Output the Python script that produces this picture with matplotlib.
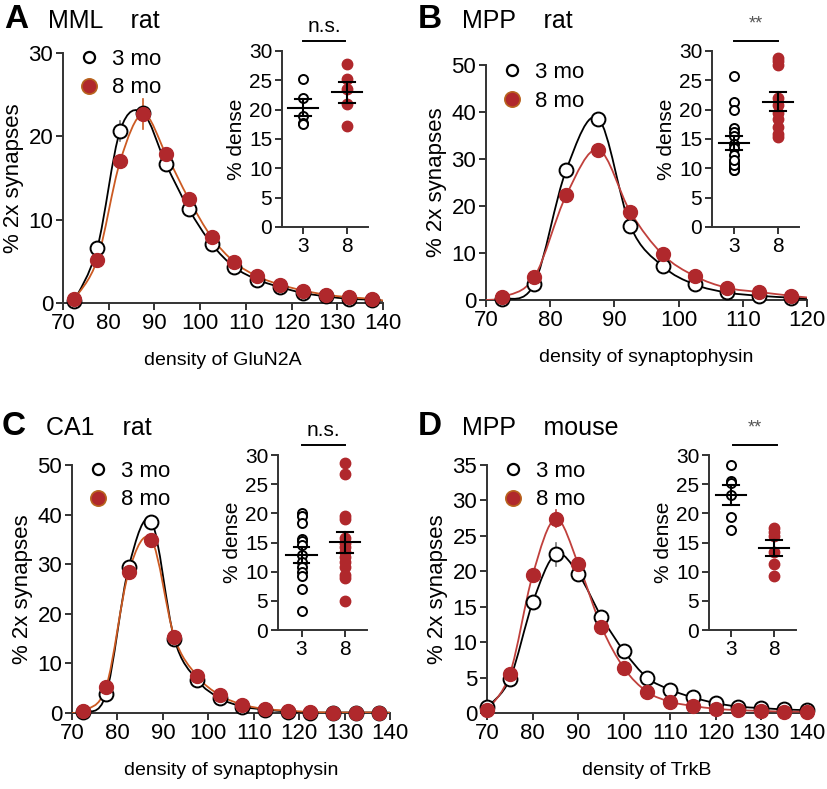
import numpy as np
import matplotlib
matplotlib.use('Agg')
import matplotlib.pyplot as plt
from matplotlib.path import Path
from matplotlib.patches import PathPatch
from matplotlib.lines import Line2D

plt.rcParams['font.family'] = ['Liberation Sans', 'DejaVu Sans']

# ── data ─────────────────────────────────────────────────────
xA = [72.5, 77.5, 82.5, 87.5, 92.5, 97.5, 102.5, 107.5, 112.5, 117.5, 122.5, 127.5, 132.5, 137.5]
a3 = [0.3, 6.6, 20.7, 22.8, 16.7, 11.3, 7.1, 4.3, 2.8, 1.9, 1.2, 0.8, 0.5, 0.4]
a8 = [0.5, 5.2, 17.0, 22.7, 17.9, 12.5, 7.9, 4.9, 3.2, 2.2, 1.5, 1.0, 0.7, 0.5]

xB = [72.5, 77.5, 82.5, 87.5, 92.5, 97.5, 102.5, 107.5, 112.5, 117.5]
b3 = [0.2, 3.4, 27.7, 38.6, 15.7, 7.2, 3.3, 1.6, 0.9, 0.5]
b8 = [0.6, 4.8, 22.3, 32.0, 18.7, 9.7, 5.1, 2.6, 1.7, 0.9]

xC = [72.5, 77.5, 82.5, 87.5, 92.5, 97.5, 102.5, 107.5, 112.5, 117.5, 122.5, 127.5, 132.5, 137.5]
c3 = [0.2, 3.8, 29.5, 38.6, 15.0, 6.7, 3.0, 1.3, 0.7, 0.3, 0.1, 0.1, 0.1, 0.1]
c8 = [0.5, 5.2, 28.5, 34.9, 15.4, 7.5, 3.6, 1.7, 0.8, 0.5, 0.2, 0.1, 0.1, 0.1]

xD = [70, 75, 80, 85, 90, 95, 100, 105, 110, 115, 120, 125, 130, 135, 140]
d3 = [0.8, 4.8, 15.6, 22.4, 19.6, 13.6, 8.7, 5.0, 3.3, 2.2, 1.4, 0.9, 0.7, 0.5, 0.4]
d8 = [0.4, 5.5, 19.5, 27.4, 21.0, 12.2, 6.3, 3.0, 1.6, 1.0, 0.6, 0.4, 0.3, 0.2, 0.2]

# barres d'erreur visibles (index, sem)
errA3 = (2, 1.2)
errA8 = (3, 1.8)
errB8 = (3, 1.0)
errC8 = (2, 1.0)
errD3 = (3, 1.6)
errD8 = (3, 1.2)

# % dense par animal
denseA3 = [25.3, 22.0, 19.0, 17.8, 17.5]
denseA8 = [27.7, 25.3, 23.5, 20.9, 17.3]
denseB3 = [25.7, 21.3, 19.9, 16.9, 16.2, 15.5, 14.2, 13.4, 12.2, 11.1, 10.3, 9.7, 10.0, 9.8, 10.5, 11.5]
denseB8 = [28.8, 28.3, 27.6, 22.0, 20.8, 19.5, 18.4, 17.0, 15.9, 15.3]
denseC3 = [20.0, 19.5, 18.3, 15.6, 15.2, 14.6, 12.8, 11.6, 10.8, 10.0, 9.3, 7.0, 3.3]
denseC8 = [28.6, 26.8, 19.5, 19.0, 15.8, 15.0, 14.3, 13.4, 12.5, 11.6, 10.8, 9.5, 9.0, 4.9]
denseD3 = [28.3, 25.6, 25.2, 23.1, 19.3, 17.1]
denseD8 = [17.5, 16.8, 16.2, 13.3, 11.4, 9.3]

RED = '#b0282c'
SPINE = '#333333'


def smooth_path(x, y):
    """Courbe lisse (Bezier Catmull-Rom) passant par les points."""
    x = np.asarray(x, float)
    y = np.asarray(y, float)
    verts = [(x[0], y[0])]
    codes = [Path.MOVETO]
    n = len(x)
    for i in range(n - 1):
        i0 = max(i - 1, 0)
        i3 = min(i + 2, n - 1)
        c1 = (x[i] + (x[i + 1] - x[i0]) / 6, y[i] + (y[i + 1] - y[i0]) / 6)
        c2 = (x[i + 1] - (x[i3] - x[i]) / 6, y[i + 1] - (y[i3] - y[i]) / 6)
        verts += [c1, c2, (x[i + 1], y[i + 1])]
        codes += [Path.CURVE4] * 3
    return Path(verts, codes)


def style(ax, fs=14):
    for s in ['top', 'right']:
        ax.spines[s].set_visible(False)
    for s in ['left', 'bottom']:
        ax.spines[s].set_color(SPINE)
        ax.spines[s].set_linewidth(1.4)
    ax.tick_params(direction='out', length=5, width=1.4, color=SPINE,
                   labelsize=fs, pad=2)


def main_panel(rect, x, y3, y8, errs, xlim, ylim, yticks, xticks, xlabel,
               linecol, xstart=None, xend=None):
    ax = fig.add_axes(rect)
    style(ax, 16)
    for y, col, z in [(y3, 'black', 3), (y8, linecol, 4)]:
        xs, ys = list(x), list(y)
        if xstart is not None:
            xs = [xstart] + xs
            ys = [0] + ys
        if xend is not None:
            xs = xs + [xend]
            ys = ys + [ys[-1] * 0.6]
        ax.add_patch(PathPatch(smooth_path(xs, ys), fill=False,
                               edgecolor=col, lw=1.3, zorder=z))
    for (idx, e), col in errs:
        yy = y3 if col == 'k' else y8
        ax.plot([x[idx], x[idx]], [yy[idx] - e, yy[idx] + e],
                color='#777777' if col == 'k' else linecol, lw=1.2, zorder=5)
    ax.plot(x, y3, 'o', ms=10, mfc='white', mec='black', mew=1.4,
            zorder=6, clip_on=False)
    ax.plot(x, y8, 'o', ms=10, mfc=RED, mec=RED, mew=1.0,
            zorder=7, clip_on=False)
    ax.set_xlim(*xlim)
    ax.set_ylim(*ylim)
    ax.set_yticks(yticks)
    ax.set_xticks(xticks)
    ax.set_xlabel(xlabel, fontsize=14, labelpad=13)
    ax.set_ylabel('% 2x synapses', fontsize=16, labelpad=3)
    h3 = Line2D([], [], ls='', marker='o', ms=8, mfc='white', mec='black', mew=1.6)
    h8 = Line2D([], [], ls='', marker='o', ms=11, mfc=RED, mec='#b8641e', mew=1.2)
    ax.legend([h3, h8], ['3 mo', '8 mo'], loc='upper left',
              bbox_to_anchor=(0.0, 1.08), frameon=False, fontsize=16,
              handlelength=0.9, handletextpad=0.6, labelspacing=0.35,
              borderaxespad=0.3)
    return ax


def inset(rect, d3, d8, xlim, sig, sigx):
    ax = fig.add_axes(rect)
    style(ax, 15)
    ax.plot([3] * len(d3), d3, 'o', ms=6.5, mfc='white', mec='black',
            mew=1.4, zorder=3)
    ax.plot([8] * len(d8), d8, 'o', ms=7.5, mfc=RED, mec=RED, zorder=3)
    for pos, d in [(3, d3), (8, d8)]:
        d = np.asarray(d)
        m = d.mean()
        sem = d.std(ddof=1) / np.sqrt(len(d))
        ax.plot([pos - 1.75, pos + 1.75], [m, m], color='black', lw=1.5, zorder=4)
        ax.plot([pos - 0.9, pos + 0.9], [m + sem, m + sem], color='black', lw=1.5, zorder=4)
        ax.plot([pos - 0.9, pos + 0.9], [m - sem, m - sem], color='black', lw=1.5, zorder=4)
        ax.plot([pos, pos], [m - sem, m + sem], color='black', lw=1.5, zorder=4)
    ax.set_xlim(*xlim)
    ax.set_ylim(0, 30)
    ax.set_yticks([0, 5, 10, 15, 20, 25, 30])
    ax.set_xticks([3, 8])
    ax.set_ylabel('% dense', fontsize=15, labelpad=2)
    ax.plot(sigx, [31.7, 31.7], color='black', lw=1.4, clip_on=False)
    if sig == '**':
        ax.text(np.mean(sigx), 33.2, sig, ha='center', va='bottom',
                fontsize=13, color='#555555')
    else:
        ax.text(np.mean(sigx), 32.6, sig, ha='center', va='bottom', fontsize=15)
    return ax


fig = plt.figure(figsize=(8.28, 7.89), dpi=100)

W, H = 828, 789


def rect(l, r, t, b):
    return [l / W, 1 - b / H, (r - l) / W, (b - t) / H]


main_panel(rect(63, 383, 53, 303), xA, a3, a8,
           [(errA3, 'k'), (errA8, 'r')], (70, 140), (0, 30), [0, 10, 20, 30],
           range(70, 141, 10), 'density of GluN2A', '#cc5a22', xend=140)
inset(rect(282, 368, 51, 227), denseA3, denseA8, (0.6, 10.4), 'n.s.', [3.0, 7.8])

main_panel(rect(486, 807, 65, 300), xB, b3, b8,
           [(errB8, 'r')], (70, 120), (0, 50), [0, 10, 20, 30, 40, 50],
           range(70, 121, 10), 'density of synaptophysin', '#c0403c',
           xstart=70, xend=120)
inset(rect(712, 799, 51, 227), denseB3, denseB8, (0.5, 10.4), '**', [3.0, 8.0])

main_panel(rect(72, 390, 465, 713), xC, c3, c8,
           [(errC8, 'r')], (70, 140), (0, 50), [0, 10, 20, 30, 40, 50],
           range(70, 141, 10), 'density of synaptophysin', '#cc5a22',
           xstart=70, xend=140)
inset(rect(278, 367, 455, 630), denseC3, denseC8, (0.3, 10.5), 'n.s.', [3.0, 8.0])

main_panel(rect(487, 807, 465, 713), xD, d3, d8,
           [(errD3, 'k'), (errD8, 'r')], (70, 140), (0, 35),
           [0, 5, 10, 15, 20, 25, 30, 35],
           range(70, 141, 10), 'density of TrkB', '#c0403c')
inset(rect(709, 796, 455, 630), denseD3, denseD8, (0.44, 10.56), '**', [3.2, 8.3])

# ── titres des panneaux ──────────────────────────────────────
for px, py, letter, title in [(4, 28, 'A', 'MML    rat'),
                              (418, 28, 'B', 'MPP    rat'),
                              (2, 435, 'C', 'CA1    rat'),
                              (418, 435, 'D', 'MPP    mouse')]:
    fig.text(px / W, 1 - py / H, letter, fontsize=24, fontweight='bold',
             ha='left', va='baseline')
    fig.text((px + 44) / W, 1 - py / H, title, fontsize=18,
             ha='left', va='baseline')

plt.savefig('out.png', dpi=100)
plt.close()
